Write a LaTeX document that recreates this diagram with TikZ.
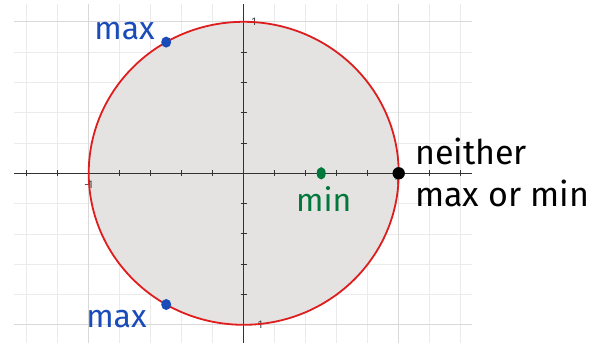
\documentclass[tikz,border=0pt]{standalone}
\usepackage{fontspec}
\setmainfont{Fira Sans}
\usepackage{tikz}

\definecolor{maxblue}{RGB}{25,75,185}
\definecolor{mingreen}{RGB}{0,120,60}
\definecolor{discgray}{RGB}{228,227,225}
\definecolor{curvered}{RGB}{222,30,30}

\tikzset{
  minorgrid/.style={draw=black!8,line width=0.8pt},
  majorgrid/.style={draw=black!15,line width=0.9pt},
  axisline/.style={draw=black!80,line width=0.9pt},
  ticklabel/.style={text=black!75,font=\fontsize{11}{11}\selectfont,inner sep=0pt},
  handnote/.style={anchor=base west,inner sep=0pt,font=\fontsize{32}{32}\selectfont},
}

\begin{document}
\begin{tikzpicture}[x=155pt,y=151.5pt]
\useasboundingbox (-1.5723,-1.1201) rectangle (2.2794,1.1439);
% grid
\foreach \gy in {-0.8,-0.6,-0.4,-0.2,0.2,0.4,0.6,0.8}
  \draw[minorgrid] (-1.482,\gy) -- (1.473,\gy);
\foreach \gx in {-1.4,-1.2,-0.8,-0.6,-0.4,-0.2,0.2,0.4,0.6,0.8,1.2,1.4}
  \draw[minorgrid] (\gx,-1.13) -- (\gx,1.1175);
\draw[majorgrid] (-1.482,1) -- (1.473,1);
\draw[majorgrid] (-1.482,-1) -- (1.473,-1);
\draw[majorgrid] (-1,-1.13) -- (-1,1.1175);
\draw[majorgrid] (1,-1.13) -- (1,1.1175);
% disc
\fill[discgray] (0,0) circle [x radius=1,y radius=1];
% axes
\draw[axisline] (-1.482,0) -- (1.473,0);
\draw[axisline] (0,-1.13) -- (0,1.1175);
\foreach \t in {-1.4,-1.2,-1,-0.8,-0.6,-0.4,-0.2,0.2,0.4,0.6,0.8,1,1.2,1.4}
  \draw[axisline] (\t,-0.02) -- (\t,0.02);
\foreach \t in {-1,-0.8,-0.6,-0.4,-0.2,0.2,0.4,0.6,0.8,1}
  \draw[axisline] (-0.02,\t) -- (0.02,\t);
\node[ticklabel] (ytop) at (0.066,1.0) {1};
\node[ticklabel] (xleft) at (-1.0,-0.075) {-1};
\node[ticklabel] (xright) at (0.99,-0.055) {1};
\node[ticklabel] (ybot) at (0.095,-1.0) {-1};
% constraint curve
\draw[curvered,line width=1.8pt] (0,0) circle [x radius=1,y radius=1];
% points
\coordinate (maxup) at (-0.5,0.866);
\coordinate (maxdown) at (-0.5,-0.866);
\coordinate (minpt) at (0.5,0);
\coordinate (edgept) at (1,0);
\fill[maxblue] (maxup) ellipse [x radius=5pt,y radius=5.5pt];
\fill[maxblue] (maxdown) ellipse [x radius=5pt,y radius=5.5pt];
\fill[mingreen] (minpt) ellipse [x radius=4.5pt,y radius=6.2pt];
\fill[black] (edgept) circle [radius=6.2pt];
% labels
\node[handnote,text=maxblue] (maxuplabel) at (-0.965,0.88) {max};
\node[handnote,text=maxblue] (maxdownlabel) at (-1.017,-1.015) {max};
\node[handnote,text=mingreen] (minlabel) at (0.337,-0.255) {min};
\node[handnote,font=\fontsize{34}{34}\selectfont] (neitherlabel) at (1.105,0.055) {neither};
\node[handnote,font=\fontsize{34}{34}\selectfont] (maxorminlabel) at (1.105,-0.222) {max or min};
\end{tikzpicture}
\end{document}
